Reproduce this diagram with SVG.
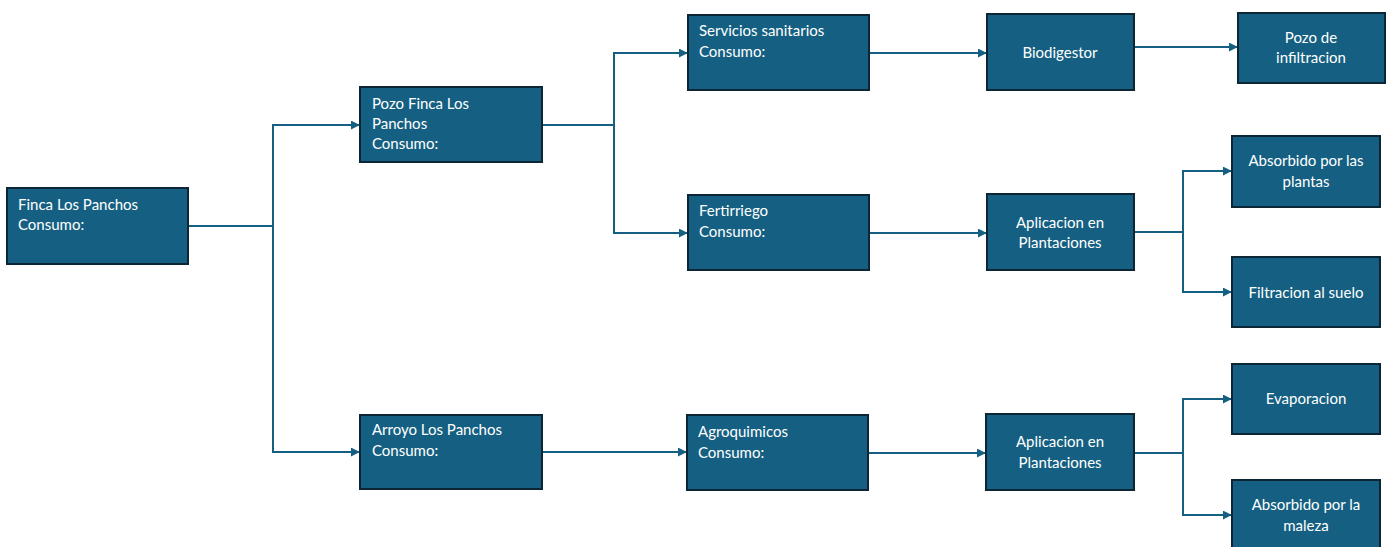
<svg xmlns="http://www.w3.org/2000/svg" width="1397" height="547" viewBox="0 0 1397 547">
<defs>
<style>
.box{fill:#156082;stroke:#0c2636;stroke-width:2}
.t{font-family:"Lato","Liberation Sans",sans-serif;font-size:15px;fill:#ffffff}
.c{text-anchor:middle}
.ln{fill:none;stroke:#156082;stroke-width:2}
</style>
<marker id="ah" viewBox="0 0 10 10" refX="9" refY="5" markerWidth="9" markerHeight="9" markerUnits="userSpaceOnUse" orient="auto">
<path d="M0,0 L10,5 L0,10 z" fill="#156082"/>
</marker>
</defs>
<rect width="1397" height="547" fill="#ffffff"/>
<g id="connectors">
<path class="ln" d="M188,226 H273 V125 H359" marker-end="url(#ah)"/>
<path class="ln" d="M273,226 V452 H359" marker-end="url(#ah)"/>
<path class="ln" d="M542,125 H614 V53 H687" marker-end="url(#ah)"/>
<path class="ln" d="M614,125 V233 H687" marker-end="url(#ah)"/>
<path class="ln" d="M869,53 H986" marker-end="url(#ah)"/>
<path class="ln" d="M1134,47 H1237" marker-end="url(#ah)"/>
<path class="ln" d="M869,233 H986" marker-end="url(#ah)"/>
<path class="ln" d="M1134,232 H1183 V171 H1231" marker-end="url(#ah)"/>
<path class="ln" d="M1183,232 V292 H1231" marker-end="url(#ah)"/>
<path class="ln" d="M542,452 H686" marker-end="url(#ah)"/>
<path class="ln" d="M868,453 H985" marker-end="url(#ah)"/>
<path class="ln" d="M1134,453 H1183 V399 H1231" marker-end="url(#ah)"/>
<path class="ln" d="M1183,453 V515 H1231" marker-end="url(#ah)"/>
</g>
<g id="finca"><rect class="box" x="7" y="188" width="181" height="76"/><text class="t" x="18" y="210">Finca Los Panchos</text><text class="t" x="18" y="230">Consumo:</text></g>
<g id="pozo-finca"><rect class="box" x="360" y="87" width="182" height="75"/><text class="t" x="372" y="109">Pozo Finca Los</text><text class="t" x="372" y="129">Panchos</text><text class="t" x="372" y="149">Consumo:</text></g>
<g id="arroyo"><rect class="box" x="360" y="415" width="182" height="74"/><text class="t" x="372" y="435">Arroyo Los Panchos</text><text class="t" x="372" y="456">Consumo:</text></g>
<g id="servicios"><rect class="box" x="688" y="15" width="181" height="75"/><text class="t" x="699" y="36">Servicios sanitarios</text><text class="t" x="699" y="57">Consumo:</text></g>
<g id="fertirriego"><rect class="box" x="688" y="195" width="181" height="75"/><text class="t" x="699" y="216">Fertirriego</text><text class="t" x="699" y="237">Consumo:</text></g>
<g id="agroquimicos"><rect class="box" x="687" y="415" width="181" height="75"/><text class="t" x="698" y="437">Agroquimicos</text><text class="t" x="698" y="458">Consumo:</text></g>
<g id="biodigestor"><rect class="box" x="987" y="14" width="147" height="76"/><text class="t c" x="1060" y="58">Biodigestor</text></g>
<g id="aplicacion1"><rect class="box" x="987" y="194" width="147" height="76"/><text class="t c" x="1060" y="228">Aplicacion en</text><text class="t c" x="1060" y="248">Plantaciones</text></g>
<g id="aplicacion2"><rect class="box" x="986" y="414" width="148" height="76"/><text class="t c" x="1060" y="447">Aplicacion en</text><text class="t c" x="1060" y="468">Plantaciones</text></g>
<g id="pozo-infiltracion"><rect class="box" x="1238" y="13" width="147" height="70"/><text class="t c" x="1311" y="43">Pozo de</text><text class="t c" x="1311" y="63">infiltracion</text></g>
<g id="absorbido-plantas"><rect class="box" x="1232" y="136" width="148" height="71"/><text class="t c" x="1306" y="166">Absorbido por las</text><text class="t c" x="1306" y="187">plantas</text></g>
<g id="filtracion"><rect class="box" x="1232" y="257" width="148" height="70"/><text class="t c" x="1306" y="298">Filtracion al suelo</text></g>
<g id="evaporacion"><rect class="box" x="1232" y="364" width="148" height="70"/><text class="t c" x="1306" y="404">Evaporacion</text></g>
<g id="absorbido-maleza"><rect class="box" x="1232" y="480" width="148" height="70"/><text class="t c" x="1306" y="510">Absorbido por la</text><text class="t c" x="1306" y="531">maleza</text></g>
</svg>
